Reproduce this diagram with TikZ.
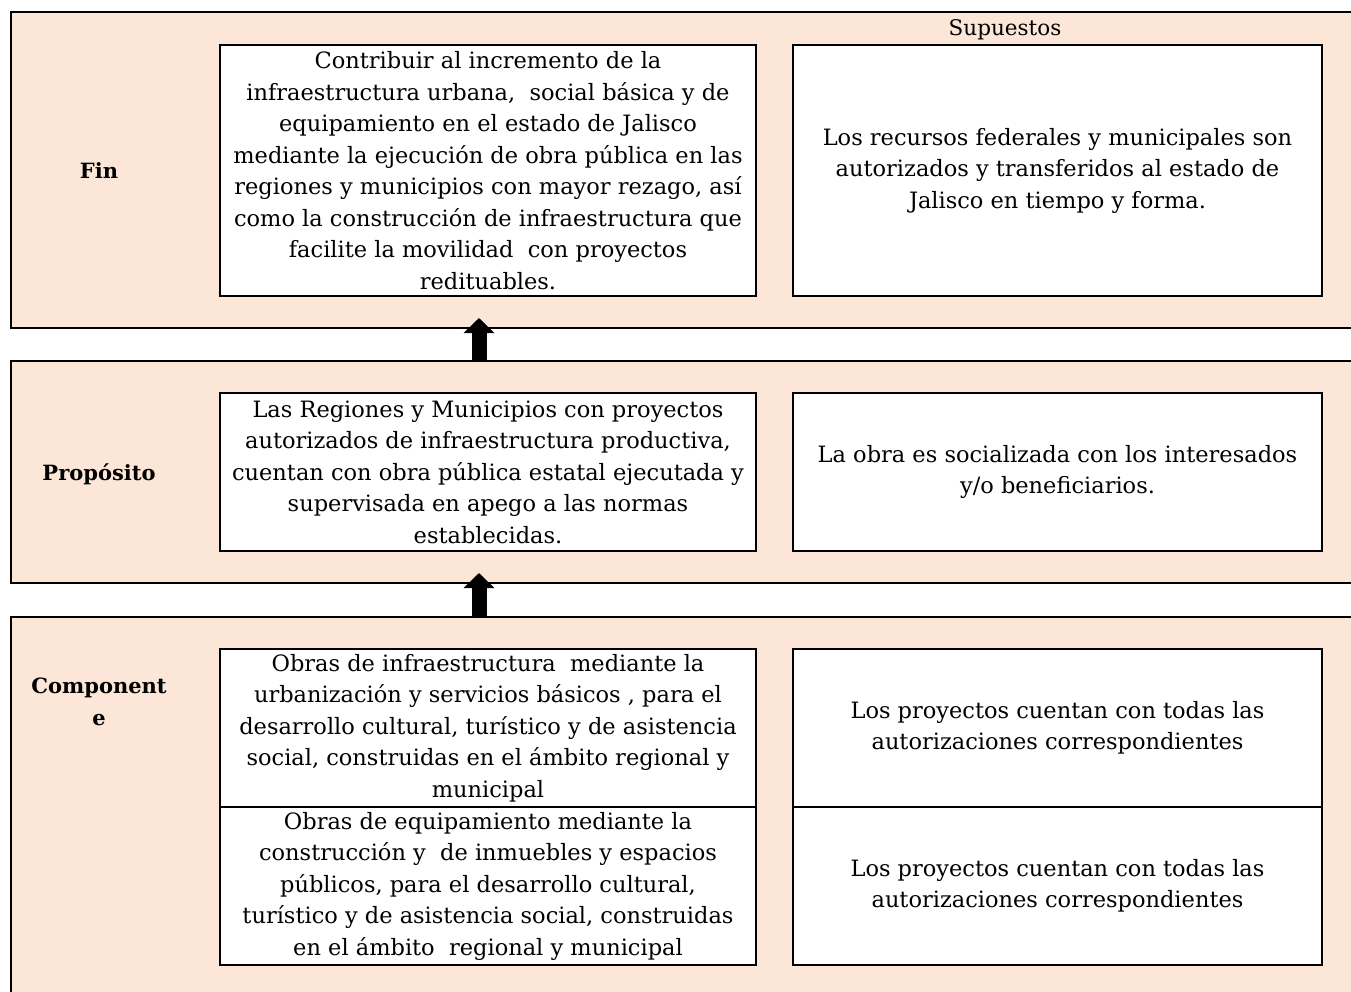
\documentclass[tikz,border=0pt]{standalone}
\usepackage{fontspec}
\setmainfont{DejaVu Serif}
\usetikzlibrary{positioning, arrows.meta}
\definecolor{panelfill}{HTML}{FBE6D7}
\tikzset{
	panel/.style={draw, line width=2pt, fill=panelfill},
	cell/.style={draw, line width=2pt, fill=white, inner sep=0pt, outer sep=0pt, align=center, font=\fontsize{22.5}{31.5}\selectfont},
	leftcell/.style={cell, minimum width=536pt, anchor=north west},
	rightcell/.style={cell, minimum width=529pt},
	rowlabel/.style={font=\fontsize{21}{31.5}\selectfont\bfseries, align=center},
	uparrow/.style={line width=15pt, -{Triangle[length=15pt, width=30pt]}},
}

\begin{document}
\begin{tikzpicture}[x=1pt, y=-1pt]
	\clip (0,0) rectangle (1351,992);
	\fill[white] (0,0) rectangle (1351,992);
	% panels
	\draw[panel] (11,12) rectangle (1370,328);
	\draw[panel] (11,361) rectangle (1370,583);
	\draw[panel] (11,617) rectangle (1370,1010);
	
	\node[rowlabel] (fin) at (99,171) {Fin};
	\node[rowlabel] (prop) at (99,474) {Propósito};
	\node[rowlabel] (comp) at (99,702) {Component\\e};
	\node[font=\fontsize{21.5}{31.5}\selectfont] (sup) at (1005,30) {Supuestos};
	
	\node[leftcell, minimum height=251pt] (finL) at (220,45) {Contribuir al incremento de la\\infraestructura urbana,\ \ social básica y de\\equipamiento en el estado de Jalisco\\mediante la ejecución de obra pública en las\\regiones y municipios con mayor rezago, así\\como la construcción de infraestructura que\\facilite la movilidad\ \ con proyectos\\redituables.};
	\node[rightcell, minimum height=251pt, right=37pt of finL] (finR) {Los recursos federales y municipales son\\autorizados y transferidos al estado de\\Jalisco en tiempo y forma.};
	
	\node[leftcell, minimum height=158pt] (propL) at (220,393) {Las Regiones y Municipios con proyectos\\autorizados de infraestructura productiva,\\cuentan con obra pública estatal ejecutada y\\supervisada en apego a las normas\\establecidas.};
	\node[rightcell, minimum height=158pt, right=37pt of propL] (propR) {La obra es socializada con los interesados\\y/o beneficiarios.};
	
	\node[leftcell, minimum height=158pt] (compL1) at (220,649) {Obras de infraestructura\ \ mediante la\\urbanización y servicios básicos , para el\\desarrollo cultural, turístico y de asistencia\\social, construidas en el ámbito regional y\\municipal};
	\node[rightcell, minimum height=158pt, right=37pt of compL1] (compR1) {Los proyectos cuentan con todas las\\autorizaciones correspondientes};
	\node[leftcell, minimum height=158pt, anchor=north, below=0pt of compL1] (compL2) {Obras de equipamiento mediante la\\construcción y\ \ de inmuebles y espacios\\públicos, para el desarrollo cultural,\\turístico y de asistencia social, construidas\\en el ámbito\ \ regional y municipal};
	\node[rightcell, minimum height=158pt, right=37pt of compL2] (compR2) {Los proyectos cuentan con todas las\\autorizaciones correspondientes};
	
	% arrows between levels
	\coordinate (up1s) at (479,362);
	\coordinate (up1e) at (479,318);
	\coordinate (up2s) at (479,618);
	\coordinate (up2e) at (479,573);
	\draw[uparrow] (up1s) -- (up1e);
	\draw[uparrow] (up2s) -- (up2e);
\end{tikzpicture}
\end{document}
